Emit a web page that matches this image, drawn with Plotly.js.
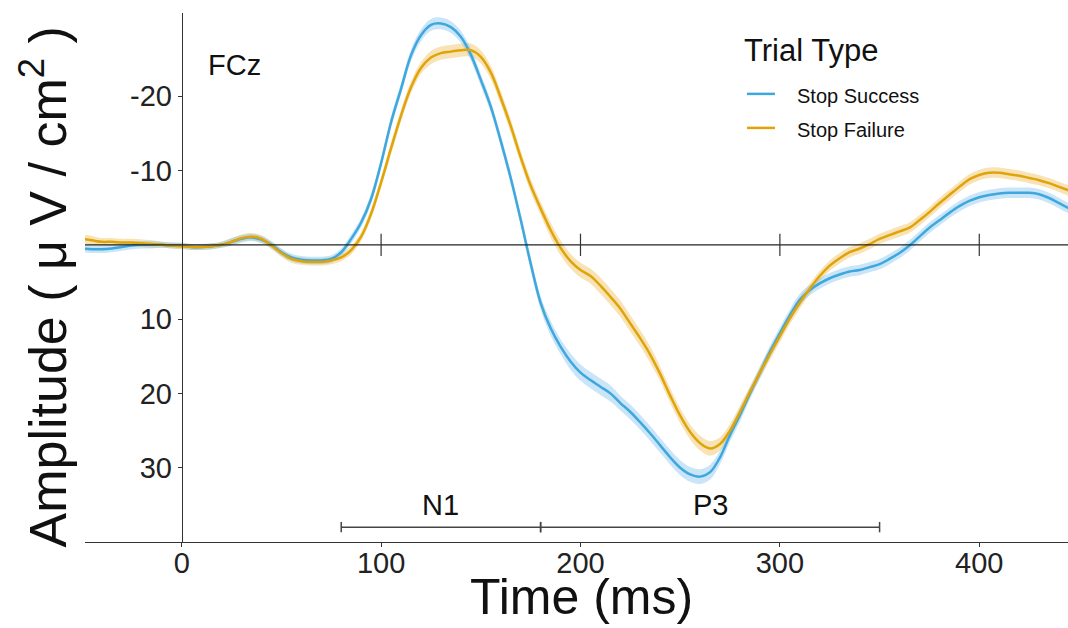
<!DOCTYPE html>
<html>
<head>
<meta charset="utf-8">
<script src="https://cdn.plot.ly/plotly-3.0.1.min.js"></script>
<style>html,body{margin:0;padding:0;background:#fff;}#chart{width:1068px;height:628px;}</style>
</head>
<body>
<div id="chart"></div>
<script>
// ---- data ----
const timeMs = [-50,-45,-40,-35,-30,-25,-20,-15,-10,-5,0,5,10,15,20,25,30,35,40,45,50,55,60,65,70,75,80,85,90,95,
100,105,110,115,120,125,130,135,140,145,150,155,160,165,170,175,180,185,190,195,200,205,210,215,220,225,230,235,240,245,
250,255,260,265,270,275,280,285,290,295,300,305,310,315,320,325,330,335,340,345,350,355,360,365,370,375,380,385,390,395,
400,405,410,415,420,425,430,435,440,445];

const stopSuccess = [0.5,0.6,0.6,0.5,0.3,0.1,0.0,0.0,0.0,0.1,0.1,0.3,0.3,0.2,0.0,-0.4,-0.8,-1.0,-0.7,0.0,1.0,1.7,2.0,2.1,2.1,1.9,1.0,-0.8,-3.0,-6.2,
-11.0,-16.5,-21.0,-25.5,-28.2,-29.6,-29.8,-29.3,-28.0,-25.6,-22.2,-18.6,-14.0,-9.0,-3.4,2.5,7.8,11.2,13.7,15.7,17.2,18.2,19.1,20.0,21.3,22.5,23.9,25.4,27.0,28.6,
30.0,30.9,31.2,30.6,28.6,25.6,22.9,20.0,17.2,14.4,11.9,9.5,7.4,6.1,5.2,4.5,4.0,3.6,3.4,3.0,2.6,1.9,1.1,0.1,-1.1,-2.3,-3.3,-4.3,-5.2,-5.9,
-6.4,-6.7,-6.9,-7.0,-7.0,-7.0,-6.8,-6.3,-5.6,-4.9];

const stopFailure = [-0.8,-0.6,-0.4,-0.4,-0.3,-0.3,-0.2,-0.1,0.0,0.1,0.2,0.3,0.3,0.2,0.0,-0.4,-0.9,-1.1,-0.8,0.1,1.1,1.9,2.2,2.3,2.3,2.1,1.7,0.7,-1.1,-4.2,
-8.4,-13.0,-17.4,-21.2,-23.8,-25.2,-25.8,-26.0,-26.2,-26.2,-25.3,-23.2,-19.8,-16.0,-11.8,-8.0,-4.9,-2.0,0.4,2.2,3.4,4.2,5.5,7.0,8.6,10.6,12.6,14.8,17.4,20.3,
23.0,25.2,26.7,27.4,26.8,25.0,22.5,19.8,17.2,14.7,12.3,9.9,7.8,5.9,4.2,2.8,1.8,1.0,0.5,-0.1,-0.8,-1.3,-1.8,-2.3,-3.3,-4.4,-5.6,-6.7,-7.8,-8.8,
-9.4,-9.7,-9.7,-9.5,-9.3,-9.0,-8.7,-8.3,-7.8,-7.3];

const seSuccess = [0.5,0.5,0.5,0.5,0.5,0.5,0.5,0.5,0.4,0.4,0.4,0.4,0.4,0.4,0.4,0.5,0.5,0.5,0.5,0.5,0.5,0.5,0.5,0.5,0.5,0.5,0.5,0.6,0.6,0.7,
0.7,0.8,0.8,0.8,0.8,0.8,0.8,0.8,0.8,0.8,0.8,0.8,0.8,0.8,0.8,0.9,0.9,1.0,1.0,1.1,1.1,1.1,1.1,1.1,1.0,1.0,1.0,1.0,1.0,1.0,
1.0,1.0,1.0,1.0,0.9,0.9,0.9,0.8,0.8,0.8,0.8,0.8,0.8,0.7,0.7,0.7,0.7,0.7,0.7,0.7,0.7,0.7,0.7,0.7,0.7,0.7,0.7,0.7,0.7,0.7,
0.7,0.7,0.7,0.7,0.7,0.7,0.7,0.7,0.7,0.7];

const seFailure = [0.6,0.6,0.5,0.5,0.5,0.5,0.5,0.5,0.4,0.4,0.4,0.4,0.4,0.4,0.4,0.5,0.5,0.5,0.5,0.5,0.5,0.5,0.5,0.5,0.5,0.5,0.5,0.6,0.6,0.7,
0.7,0.8,0.8,0.8,0.8,0.9,0.9,0.9,0.9,0.9,0.9,0.9,0.9,0.9,0.9,0.9,0.9,1.0,1.0,1.0,1.0,1.0,1.1,1.1,1.1,1.1,1.1,1.1,1.0,1.0,
1.0,1.0,1.0,1.0,0.9,0.9,0.9,0.8,0.8,0.8,0.8,0.8,0.8,0.7,0.7,0.7,0.7,0.7,0.7,0.7,0.7,0.7,0.7,0.7,0.7,0.7,0.7,0.7,0.7,0.7,
0.7,0.7,0.7,0.7,0.7,0.7,0.7,0.7,0.7,0.7];

const seriesNames = ['Stop Success', 'Stop Failure'];
const legendTitle = 'Trial Type';
const channelLabel = 'FCz';
const xTitle = 'Time (ms)';
const yTitle = 'Amplitude ( μ V / cm<sup>2</sup> )';
const xTickVals = [0, 100, 200, 300, 400];
const xTickText = ['0', '100', '200', '300', '400'];
const yTickVals = [-20, -10, 10, 20, 30];
const yTickText = ['-20', '-10', '10', '20', '30'];
const zeroLineTicks = [100, 200, 300, 400];
const windowNames = ['N1', 'P3'];
const windowStarts = [80, 180];
const windowEnds = [180, 350];

// ---- style ----
const blue = 'rgb(62,168,222)';
const blueBand = 'rgba(120,190,235,0.40)';
const orange = 'rgb(224,164,10)';
const orangeBand = 'rgba(236,184,70,0.40)';
const font = 'Liberation Sans, Arial, sans-serif';
const xRange = [-48.5, 444.5];
const yRange = [40, -31.2];

function band(y, se, color) {
  const up = y.map((v, i) => v - se[i]);
  const lo = y.map((v, i) => v + se[i]);
  return [
    {x: timeMs, y: up, mode: 'lines', line: {width: 0, shape: 'spline'}, hoverinfo: 'skip', showlegend: false},
    {x: timeMs, y: lo, mode: 'lines', line: {width: 0, shape: 'spline'}, fill: 'tonexty', fillcolor: color, hoverinfo: 'skip', showlegend: false}
  ];
}

const traces = [
  ...band(stopFailure, seFailure, orangeBand),
  ...band(stopSuccess, seSuccess, blueBand),
  {x: timeMs, y: stopSuccess, name: seriesNames[0], mode: 'lines', line: {color: blue, width: 2.5, shape: 'spline'}, showlegend: false},
  {x: timeMs, y: stopFailure, name: seriesNames[1], mode: 'lines', line: {color: orange, width: 2.5, shape: 'spline'}, showlegend: false}
];

const shapes = [];
// zero line
shapes.push({type: 'line', xref: 'x', yref: 'y', x0: xRange[0], x1: xRange[1], y0: 0, y1: 0, line: {color: '#222', width: 1.2}});
zeroLineTicks.forEach(t => shapes.push({type: 'line', xref: 'x', yref: 'y', x0: t, x1: t, y0: -1.5, y1: 1.5, line: {color: '#333', width: 1.2}}));
// window brackets
const bracketY = 38;
windowNames.forEach((n, i) => {
  shapes.push({type: 'line', xref: 'x', yref: 'y', x0: windowStarts[i], x1: windowEnds[i], y0: bracketY, y1: bracketY, line: {color: '#444', width: 1.5}});
  [windowStarts[i], windowEnds[i]].forEach(t => shapes.push({type: 'line', xref: 'x', yref: 'y', x0: t, x1: t, y0: bracketY - 0.7, y1: bracketY + 0.7, line: {color: '#444', width: 1.5}}));
});
// legend line samples
const legY = [0.8431, 0.7788];
const legColors = [blue, orange];
legY.forEach((yy, i) => shapes.push({type: 'line', xref: 'paper', yref: 'paper', x0: 0.6734, x1: 0.7019, y0: yy + 0.004, y1: yy + 0.004, line: {color: legColors[i], width: 2.5}}));

const annotations = [
  {x: 26.5, y: -24.2, xref: 'x', yref: 'y', text: channelLabel, showarrow: false, font: {family: font, size: 29, color: '#111'}},
  {x: 0.6684, y: 0.930, xref: 'paper', yref: 'paper', xanchor: 'left', yanchor: 'middle', text: legendTitle, showarrow: false, font: {family: font, size: 31, color: '#111'}},
  ...seriesNames.map((n, i) => ({x: 0.7223, y: legY[i], xref: 'paper', yref: 'paper', xanchor: 'left', yanchor: 'middle', text: n, showarrow: false, font: {family: font, size: 20, color: '#111'}})),
  ...windowNames.map((n, i) => ({x: (windowStarts[i] + windowEnds[i]) / 2, y: 35.0, xref: 'x', yref: 'y', text: n, showarrow: false, font: {family: font, size: 29, color: '#111'}})),
  {x: 0.5046, y: -0.104, xref: 'paper', yref: 'paper', xanchor: 'center', yanchor: 'middle', text: xTitle, showarrow: false, font: {family: font, size: 50, color: '#111'}},
  {x: -0.0407, y: 0.483, xref: 'paper', yref: 'paper', xanchor: 'center', yanchor: 'middle', textangle: -90, text: yTitle, showarrow: false, font: {family: font, size: 52, color: '#111'}}
];

const layout = {
  width: 1068, height: 628,
  margin: {l: 85, r: 0, t: 13, b: 86},
  paper_bgcolor: '#fff', plot_bgcolor: '#fff',
  showlegend: false,
  xaxis: {
    range: xRange, showgrid: false, zeroline: false, automargin: false,
    showline: true, linecolor: '#333', linewidth: 1.2,
    tickvals: xTickVals, ticktext: xTickText, ticks: 'outside', ticklen: 4, tickcolor: '#333',
    ticklabelstandoff: -9,
    tickfont: {family: font, size: 29, color: '#222'}
  },
  yaxis: {
    range: yRange, showgrid: false, zeroline: false, automargin: false,
    anchor: 'free', position: (0 - xRange[0]) / (xRange[1] - xRange[0]),
    showline: true, linecolor: '#333', linewidth: 1.2,
    tickvals: yTickVals, ticktext: yTickText, ticks: 'outside', ticklen: 4, tickcolor: '#333',
    tickfont: {family: font, size: 29, color: '#222'}
  },
  shapes: shapes,
  annotations: annotations
};

Plotly.newPlot('chart', traces, layout, {staticPlot: true, displayModeBar: false});
</script>
</body>
</html>
